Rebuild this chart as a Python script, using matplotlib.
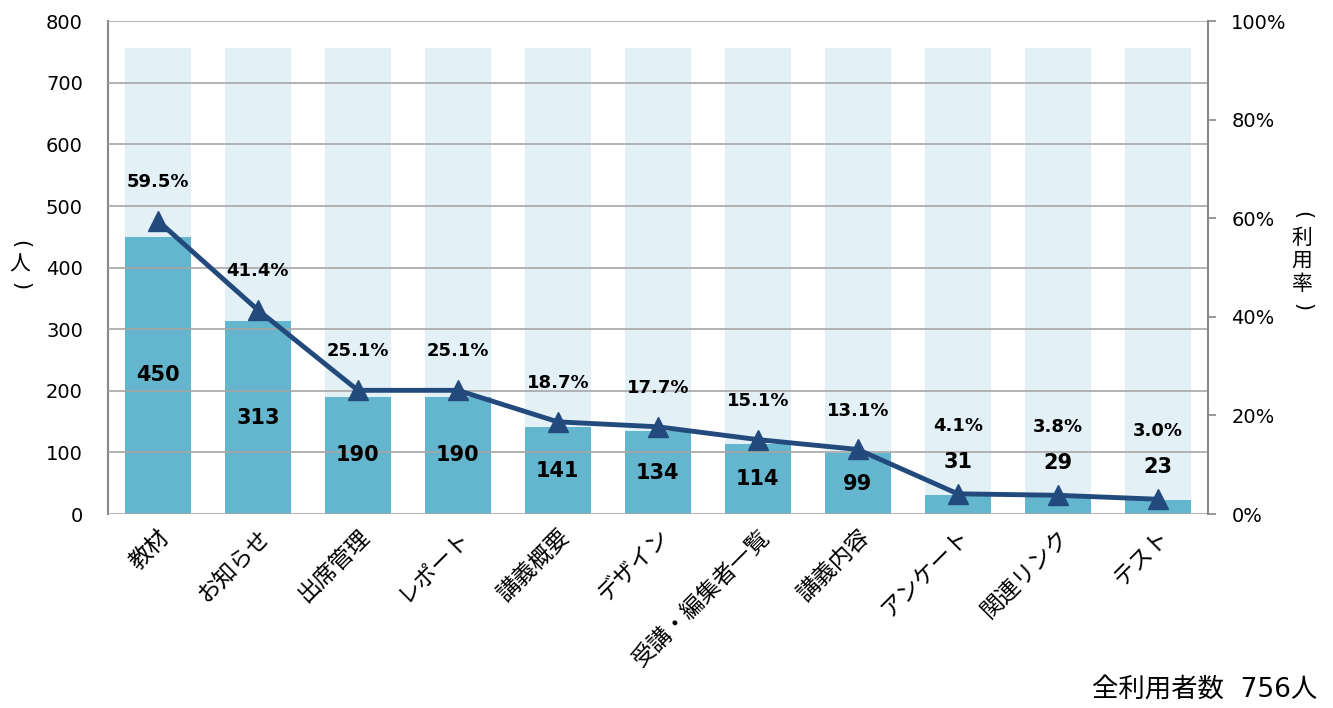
import matplotlib
matplotlib.use("Agg")
import matplotlib.pyplot as plt
import numpy as np

plt.rcParams['font.family'] = ['Noto Sans CJK JP', 'DejaVu Sans']
num_font = ['DejaVu Sans', 'Noto Sans CJK JP']

# data
categories = ['教材', 'お知らせ', '出席管理', 'レポート', '講義概要', 'デザイン',
              '受講・編集者一覧', '講義内容', 'アンケート', '関連リンク', 'テスト']
users = [450, 313, 190, 190, 141, 134, 114, 99, 31, 29, 23]
rates = [59.5, 41.4, 25.1, 25.1, 18.7, 17.7, 15.1, 13.1, 4.1, 3.8, 3.0]
total_users = 756

bar_dark = '#63B6CD'
bar_light = '#E3F1F6'
line_col = '#234A7C'
grid_col = '#A6A6A6'

fig = plt.figure(figsize=(13.33, 7.08), dpi=100)
ax = fig.add_axes([0.081, 0.274, 0.825, 0.696])
x = np.arange(len(categories))

ax.bar(x, [total_users] * len(x), width=0.66, color=bar_light, zorder=1)
ax.bar(x, users, width=0.66, color=bar_dark, zorder=2)
ax.set_ylim(0, 800)
ax.set_xlim(-0.5, len(x) - 0.5)
ax.set_yticks(range(0, 801, 100))
ax.yaxis.grid(True, color=grid_col, linewidth=1.2, zorder=3)
ax.set_axisbelow(False)
ax.tick_params(axis='y', length=0, labelsize=14, pad=18)
for lab in ax.get_yticklabels():
    lab.set_family(num_font)
ax.tick_params(axis='x', length=0, pad=8)
ax.set_xticks(x)
ax.set_xticklabels(categories, rotation=45, ha='right', rotation_mode='anchor', fontsize=16.5)
for s in ['top', 'right', 'bottom']:
    ax.spines[s].set_visible(False)
ax.spines['left'].set_color('#888888')
ax.spines['left'].set_linewidth(1.5)

# counts: centred in the bar, above it when the bar is too short
for xi, v in zip(x, users):
    y = v / 2 if v > 60 else v + 53
    ax.text(xi, y, str(v), ha='center', va='center', fontsize=15, fontweight='bold',
            family=num_font, zorder=5)

ax2 = ax.twinx()
ax2.set_ylim(0, 100)
ax2.set_yticks(range(0, 101, 20))
ax2.set_yticklabels([f'{t}%' for t in range(0, 101, 20)], family=num_font)
ax2.tick_params(axis='y', length=6, width=1.2, color='#888888', labelsize=14, pad=11)
for s in ['top', 'left', 'bottom']:
    ax2.spines[s].set_visible(False)
ax2.spines['right'].set_color('#888888')
ax2.spines['right'].set_linewidth(1.5)
ax2.plot(x, rates, color=line_col, linewidth=3.5, marker='^', markersize=14, zorder=6)
for xi, r in zip(x, rates):
    off = 28 if r > 5 else 49
    ax2.annotate(f'{r:.1f}%', (xi, r), xytext=(0, off), textcoords='offset points',
                 ha='center', va='center', fontsize=13, fontweight='bold', family=num_font)


def vertical_label(xc, ytop, chars, step):
    # stacked vertical text; brackets turned sideways
    H = 708.0
    seq = ['('] + list(chars) + [')']
    for i, ch in enumerate(seq):
        y = ytop + i * step
        rot = -90 if ch in '()' else 0
        fig.text(xc / 1333.0, 1 - y / H, ch, ha='center', va='center',
                 fontsize=15, rotation=rot, family=num_font if rot else None)


vertical_label(20, 244, '人', 21)
vertical_label(1302, 215, '利用率', 23)
fig.text(0.988, 0.025, f'全利用者数  {total_users}人', ha='right', va='center',
         fontsize=19, family=num_font)

fig.savefig('out.png', dpi=100)
